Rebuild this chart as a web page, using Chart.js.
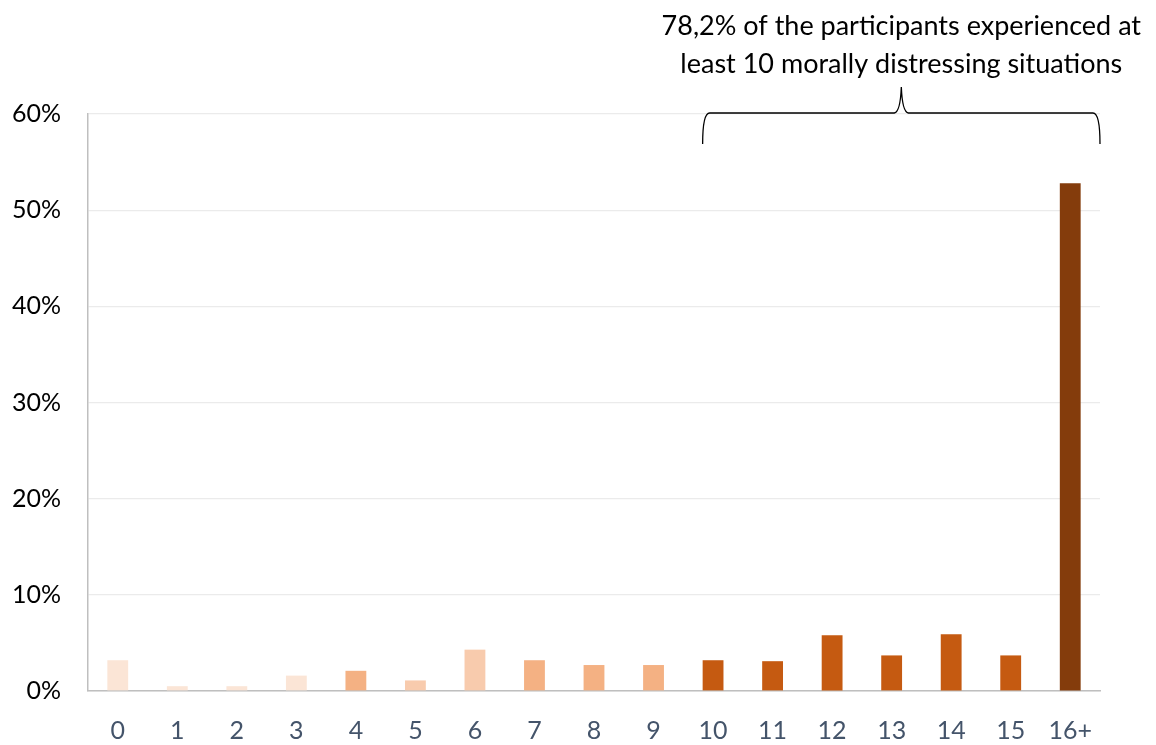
<!DOCTYPE html>
<html lang="en">
<head>
    <meta charset="UTF-8">
    <title>Morally distressing situations</title>
    <script src="https://cdn.jsdelivr.net/npm/chart.js"></script>
    <style>
        html, body {
            margin: 0;
            padding: 0;
            background: #ffffff;
        }
        #wrap {
            width: 1156px;
            height: 745px;
        }
    </style>
</head>
<body>
    <div id="wrap">
        <canvas id="chart" width="1156" height="745"></canvas>
    </div>

    <script>
        // Number of morally distressing situations experienced
        const categories = ["0", "1", "2", "3", "4", "5", "6", "7", "8", "9", "10", "11", "12", "13", "14", "15", "16+"];
        // Share of participants (%)
        const shares = [3.2, 0.5, 0.5, 1.6, 2.1, 1.1, 4.3, 3.2, 2.7, 2.7, 3.2, 3.1, 5.8, 3.7, 5.9, 3.7, 52.8];
        const yTicks = [0, 10, 20, 30, 40, 50, 60];
        const noteLines = ["78,2% of the participants experienced at", "least 10 morally distressing situations"];
        const braceFrom = "10";

        const barColors = [
            "#FBE5D6", "#FBE5D6", "#FBE5D6", "#FBE5D6",
            "#F4B183", "#F8CBAD", "#F8CBAD",
            "#F4B183", "#F4B183", "#F4B183",
            "#C55A11", "#C55A11", "#C55A11", "#C55A11", "#C55A11", "#C55A11",
            "#843C0C"
        ];

        const FONT = "Lato, 'Liberation Sans', sans-serif";

        // brace over the 10+ bars and the note above it
        const bracePlugin = {
            id: "brace",
            afterDraw(chart) {
                const ctx = chart.ctx;
                const y = chart.scales.y;
                const meta = chart.getDatasetMeta(0);
                const bar = meta.data[categories.indexOf(braceFrom)];
                const x0 = bar.x - bar.width / 2;
                const x1 = chart.chartArea.right;
                const xm = (x0 + x1) / 2;
                const yb = y.getPixelForValue(60) - 1;
                const yt = yb + 31;
                const yp = yb - 26;
                const r = 7;

                ctx.save();
                ctx.strokeStyle = "#000000";
                ctx.lineWidth = 1.3;
                ctx.beginPath();
                ctx.moveTo(x0, yt);
                ctx.quadraticCurveTo(x0, yb, x0 + r, yb);
                ctx.lineTo(xm - 7, yb);
                ctx.quadraticCurveTo(xm - 1, yb - 1, xm, yp);
                ctx.quadraticCurveTo(xm + 1, yb - 1, xm + 7, yb);
                ctx.lineTo(x1 - r, yb);
                ctx.quadraticCurveTo(x1, yb, x1, yt);
                ctx.stroke();

                ctx.fillStyle = "#000000";
                ctx.font = "27px " + FONT;
                ctx.textAlign = "center";
                ctx.textBaseline = "middle";
                ctx.fillText(noteLines[0], xm, 26);
                ctx.fillText(noteLines[1], xm, 64);
                ctx.restore();
            }
        };

        new Chart(document.getElementById("chart"), {
            type: "bar",
            data: {
                labels: categories,
                datasets: [{
                    data: shares,
                    backgroundColor: barColors,
                    borderWidth: 0,
                    barPercentage: 0.35,
                    categoryPercentage: 1.0
                }]
            },
            options: {
                responsive: false,
                animation: false,
                layout: {
                    padding: { top: 114, right: 56, left: 0, bottom: 0 }
                },
                plugins: {
                    legend: { display: false },
                    tooltip: { enabled: false }
                },
                scales: {
                    x: {
                        grid: { display: false, drawTicks: false },
                        border: { color: "#BFBFBF", width: 1.5 },
                        ticks: {
                            color: "#44546A",
                            font: { family: FONT, size: 25 },
                            padding: 25,
                            maxRotation: 0
                        },
                        afterFit(scale) { scale.height = 54; }
                    },
                    y: {
                        min: 0,
                        max: 60,
                        afterBuildTicks(scale) {
                            scale.ticks = yTicks.map(v => ({ value: v }));
                        },
                        grid: { color: "#EBEBEB", lineWidth: 1.2, drawTicks: false },
                        border: { color: "#BFBFBF", width: 1.5 },
                        ticks: {
                            color: "#000000",
                            font: { family: FONT, size: 25 },
                            padding: 27,
                            callback: v => v + "%"
                        },
                        afterFit(scale) { scale.width = 88; }
                    }
                }
            },
            plugins: [bracePlugin]
        });
    </script>
</body>
</html>
